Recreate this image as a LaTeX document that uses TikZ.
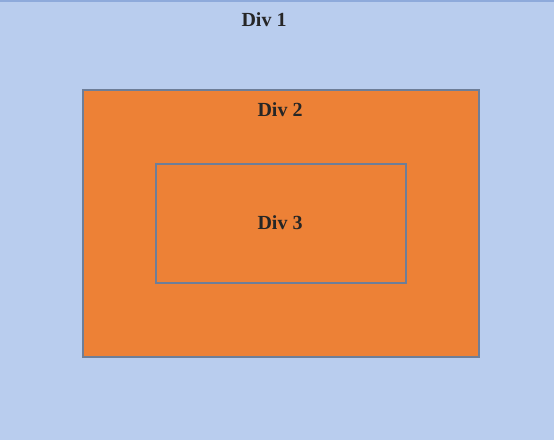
\documentclass[tikz,border=0pt]{standalone}
\usepackage{fontspec}
\setmainfont{Liberation Serif}
\definecolor{bgblue}{HTML}{B9CDEE}
\definecolor{topline}{HTML}{8EAADB}
\definecolor{orangefill}{HTML}{ED8136}
\definecolor{edgegray}{HTML}{6E7E98}
\tikzset{
  divbox/.style={fill=orangefill, draw=edgegray, line width=1.5pt},
  divlabel/.style={font=\fontsize{20}{24}\selectfont\bfseries, text=black!85, inner sep=0pt}
}
\begin{document}
\begin{tikzpicture}[x=1pt,y=-1pt]
\useasboundingbox (0,0) rectangle (554,440);
\fill[bgblue] (0,0) rectangle (554,440);
\fill[topline] (0,0) rectangle (554,2);
\node[divbox, minimum width=396pt, minimum height=267pt, anchor=north west] (div2) at (82,89) {};
\node[divbox, minimum width=250pt, minimum height=119pt, anchor=north west] (div3) at (155,163) {};
\node[divlabel] (l1) at (264,20) {Div 1};
\node[divlabel] (l2) at (280,110) {Div 2};
\node[divlabel] (l3) at (280,223) {Div 3};
\end{tikzpicture}
\end{document}
